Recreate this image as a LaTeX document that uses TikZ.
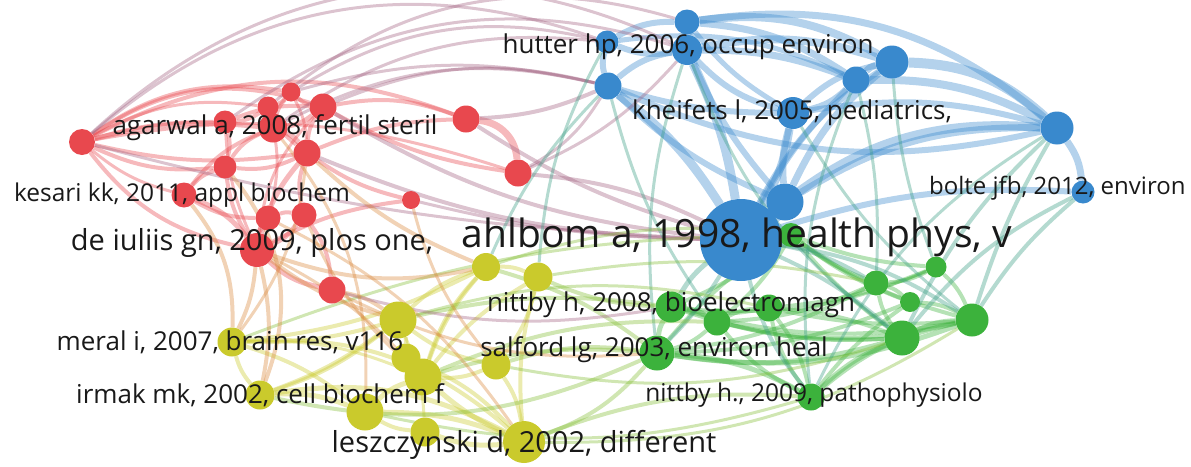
\documentclass[tikz,border=0pt]{standalone}
\usepackage{fontspec}
\setmainfont{Open Sans}
\usepackage{xcolor}
\usetikzlibrary{positioning,calc}
\definecolor{vred}{RGB}{232,72,78}
\definecolor{vblue}{RGB}{57,137,205}
\definecolor{vgreen}{RGB}{60,178,60}
\definecolor{vyellow}{RGB}{202,202,44}
\definecolor{vtext}{RGB}{25,25,25}
\colorlet{vpurple}{vred!60!vblue}
\colorlet{vorange}{vred!50!vyellow}
\colorlet{vteal}{vblue!50!vgreen}
\colorlet{vlime}{vgreen!50!vyellow}
\pgfdeclarelayer{edges}
\pgfsetlayers{edges,main}

\begin{document}
\begin{tikzpicture}[
            x=1pt, y=-1pt,
            rednode/.style={circle, inner sep=0pt, minimum size=#1, fill=vred},
            bluenode/.style={circle, inner sep=0pt, minimum size=#1, fill=vblue},
            greennode/.style={circle, inner sep=0pt, minimum size=#1, fill=vgreen},
            yellownode/.style={circle, inner sep=0pt, minimum size=#1, fill=vyellow},
            link/.style 2 args={draw=#1, opacity=0.38, line width=#2},
            lbl/.style={text=vtext, inner sep=0pt, font=\fontsize{#1}{#1}\selectfont}
        ]
        \useasboundingbox (0,0) rectangle (1191,466);

        % red cluster
        \node[rednode=26] (ra) at (82,142) {};
        \node[rednode=19] (rb) at (291,92) {};
        \node[rednode=21] (rc) at (268,107) {};
        \node[rednode=27] (rd) at (323,107) {};
        \node[rednode=23] (re) at (225,122) {};
        \node[rednode=29] (agarwal) at (273,128) {};
        \node[rednode=27] (rf) at (307,153) {};
        \node[rednode=23] (rg) at (225,167) {};
        \node[rednode=27] (rh) at (466,119) {};
        \node[rednode=27] (ri) at (518,173) {};
        \node[rednode=25] (kesari) at (184,195) {};
        \node[rednode=18] (rj) at (411,200) {};
        \node[rednode=25] (rk) at (268,218) {};
        \node[rednode=25] (rl) at (304,215) {};
        \node[rednode=34] (deiuliis) at (257,250) {};
        \node[rednode=27] (rm) at (332,290) {};

        % blue cluster
        \node[bluenode=25] (ba) at (687,22) {};
        \node[bluenode=23] (bb) at (607,42) {};
        \node[bluenode=30] (hutter) at (687,50) {};
        \node[bluenode=27] (bc) at (608,86) {};
        \node[bluenode=27] (bd) at (856,80) {};
        \node[bluenode=33] (be) at (892,62) {};
        \node[bluenode=32] (kheifets) at (793,113) {};
        \node[bluenode=33] (bf) at (1057,128) {};
        \node[bluenode=23] (bolte) at (1083,192) {};
        \node[bluenode=37] (bg) at (785,202) {};
        \node[bluenode=82] (ahlbom) at (741,240) {};

        % green cluster
        \node[greennode=24] (ga) at (791,235) {};
        \node[greennode=21] (gb) at (936,267) {};
        \node[greennode=25] (gc) at (876,283) {};
        \node[greennode=20] (gd) at (910,302) {};
        \node[greennode=33] (ge) at (972,320) {};
        \node[greennode=35] (gf) at (902,338) {};
        \node[greennode=31] (nittbya) at (671,307) {};
        \node[greennode=27] (gg) at (717,322) {};
        \node[greennode=27] (gh) at (769,308) {};
        \node[greennode=35] (salford) at (657,353) {};
        \node[greennode=27] (nittbyb) at (811,397) {};

        % yellow cluster
        \node[yellownode=28] (ya) at (486,267) {};
        \node[yellownode=29] (yb) at (538,277) {};
        \node[yellownode=37] (yc) at (398,320) {};
        \node[yellownode=29] (meral) at (232,342) {};
        \node[yellownode=29] (yd) at (406,358) {};
        \node[yellownode=37] (ye) at (423,377) {};
        \node[yellownode=29] (yf) at (496,365) {};
        \node[yellownode=29] (irmak) at (260,395) {};
        \node[yellownode=37] (yg) at (365,412) {};
        \node[yellownode=29] (yh) at (425,432) {};
        \node[yellownode=42] (leszcz) at (524,442) {};

        \begin{pgfonlayer}{edges}
        % inside the clusters
        \foreach \a/\b/\bend/\w in {ra/rb/22/4, ra/rd/26/4, ra/agarwal/10/5, ra/rf/-10/4, ra/rg/-15/4,
            ra/deiuliis/-20/4, ra/rh/24/4, ra/ri/14/3, ra/re/8/4, ra/rc/18/3, ra/kesari/-12/3,
            rb/rc/15/4, rb/rd/-15/4, rc/re/15/4, rc/agarwal/-15/5, rd/agarwal/15/5, rd/rf/-15/4, re/rg/15/4,
            agarwal/rf/15/5, agarwal/rg/-15/4, rf/rg/15/4, rg/kesari/-15/4, kesari/rk/-15/4, kesari/deiuliis/15/5,
            rk/rl/15/4, rk/deiuliis/-15/5, rl/deiuliis/15/5, rf/rl/-15/4, rf/deiuliis/-12/5, deiuliis/rm/-15/5,
            rl/rm/15/4, rj/rf/10/4, rj/deiuliis/-10/4, rh/ri/40/7, rd/rh/15/4, rf/rh/10/4, rd/ri/-10/4,
            kesari/agarwal/15/4, rg/deiuliis/-12/4, re/rd/12/4, rc/rf/-12/4, rb/agarwal/-12/4, rb/rf/12/3,
            rd/deiuliis/-18/3, re/deiuliis/-10/3, rc/rk/14/3}
            \draw[link={vred}{\w}] (\a) to[bend left=\bend] (\b);

        \foreach \a/\b/\bend/\w in {ba/hutter/15/7, ba/bb/-15/6, ba/be/18/8, ba/bd/14/7, ba/bf/24/7,
            hutter/bb/15/6, hutter/bc/-15/6, hutter/bd/10/7, hutter/be/14/8, hutter/kheifets/-15/6,
            hutter/ahlbom/8/9, hutter/bg/-8/6, bb/bc/-15/6, bc/ahlbom/10/9, bc/bg/-10/6, bc/kheifets/-8/6,
            bd/be/15/7, bd/bf/14/8, be/bf/20/10, be/kheifets/-15/6, be/bg/-12/7, kheifets/ahlbom/10/8,
            kheifets/bg/-10/7, bf/bolte/15/7, bf/ahlbom/-22/9, bf/bg/-16/7, bolte/ahlbom/-10/6,
            bd/ahlbom/-8/6, bg/ahlbom/15/9, bc/bf/-18/6, bd/kheifets/15/6, bb/bd/16/5, ba/kheifets/-10/5,
            be/ahlbom/-14/6, bf/kheifets/-12/6}
            \draw[link={vblue}{\w}] (\a) to[bend left=\bend] (\b);

        \foreach \a/\b/\bend/\w in {ga/gb/-8/4, ga/gc/-8/4, ga/gd/-8/4, ga/ge/-10/4, ga/gf/-6/4,
            gb/gc/12/4, gb/ge/12/4, gc/gd/12/4, gc/gf/-12/4, gd/ge/12/4, ge/gf/-12/5, nittbya/gg/12/5,
            nittbya/gh/-10/4, nittbya/salford/-12/5, gg/gh/12/4, gg/salford/12/4, salford/nittbyb/12/5,
            nittbyb/gf/10/5, nittbyb/ge/14/5, nittbya/gf/-10/4, salford/gf/-12/5, salford/ge/-14/5,
            gh/ge/-8/4, gh/gb/-8/4, gg/gf/-8/4, nittbyb/gh/12/4, nittbya/ge/-12/4, salford/gc/-10/4,
            nittbyb/gg/12/4, ga/salford/-8/4, gh/nittbyb/12/4, nittbyb/gd/8/4, ga/nittbya/8/4,
            gg/gc/-10/4, gg/ge/-12/4, nittbya/gb/-14/3, salford/gd/-10/4, gh/gf/8/4, ga/gg/10/4}
            \draw[link={vgreen}{\w}] (\a) to[bend left=\bend] (\b);

        \foreach \a/\b/\bend/\w in {ya/yb/12/4, ya/yc/-12/4, yc/yd/12/4, yd/ye/12/4, ye/yg/-12/5,
            yg/irmak/-12/5, irmak/meral/12/4, meral/yc/-8/4, meral/yg/10/4, yg/yh/-12/4, yh/leszcz/-12/5,
            ye/leszcz/-8/5, yf/leszcz/12/4, yf/ye/12/4, yc/yf/-12/4, irmak/leszcz/18/5, meral/leszcz/22/4,
            ya/ye/-12/4, yb/yf/12/4, yc/irmak/8/4, ya/meral/10/4, irmak/yc/-10/4, yd/leszcz/12/4,
            yg/leszcz/10/5, yb/leszcz/-10/4, ye/ya/10/4, yb/ye/-10/4, meral/ye/12/3, yc/yh/10/3}
            \draw[link={vyellow}{\w}] (\a) to[bend left=\bend] (\b);

        % between the clusters
        \foreach \a/\b/\bend/\w/\col in {ra/bb/30/3/vpurple, ra/hutter/34/3/vpurple, rb/bb/22/3/vpurple,
            rc/ba/28/3/vpurple, rd/bc/18/3/vpurple, rb/bc/14/3/vpurple, re/hutter/26/3/vpurple,
            rh/bc/-10/4/vpurple, ri/bc/-14/3/vpurple, ri/hutter/-12/3/vpurple, rd/ahlbom/-12/4/vpurple,
            ri/ahlbom/10/4/vpurple, rf/ahlbom/-10/4/vpurple, rh/ahlbom/-8/4/vpurple, rj/ahlbom/-6/3/vpurple,
            ra/ahlbom/-6/3/vpurple, bb/agarwal/-20/3/vpurple, agarwal/bc/20/3/vpurple,
            ahlbom/ga/12/5/vteal, ahlbom/gc/10/4/vteal, ahlbom/ge/12/4/vteal, ahlbom/gf/8/4/vteal,
            ahlbom/salford/6/4/vteal, ahlbom/nittbya/-10/5/vteal, ahlbom/nittbyb/-12/4/vteal,
            hutter/gf/-16/3/vteal, bd/nittbyb/-14/3/vteal, bf/gf/-10/4/vteal, bf/ge/-6/4/vteal,
            bolte/gf/-12/4/vteal, bolte/ge/-8/4/vteal, be/gb/-8/3/vteal, bd/gc/8/3/vteal,
            kheifets/ge/-10/3/vteal, hutter/salford/-12/3/vteal, bc/gg/-10/3/vteal, bf/nittbyb/-16/3/vteal,
            bc/ya/-10/3/vteal, bb/yb/-12/3/vteal,
            salford/yf/-12/4/vlime, salford/ya/-10/4/vlime, nittbya/yb/10/4/vlime, salford/leszcz/14/4/vlime,
            nittbyb/leszcz/-12/4/vlime, salford/irmak/18/4/vlime, nittbya/yc/-10/4/vlime, gg/ye/-12/4/vlime,
            salford/ye/-10/4/vlime, ga/ya/-12/3/vlime, gh/yc/-14/3/vlime, gf/yf/14/3/vlime, ge/leszcz/16/3/vlime,
            gc/yb/-10/3/vlime, nittbyb/yg/14/3/vlime, ga/meral/-10/3/vlime,
            deiuliis/ya/-15/4/vorange, meral/kesari/-20/4/vorange, meral/deiuliis/-10/4/vorange,
            yc/rm/-12/4/vorange, irmak/rg/-30/4/vorange, yc/deiuliis/10/4/vorange, ya/rf/10/4/vorange,
            meral/rf/-15/3/vorange, irmak/deiuliis/-12/4/vorange, rm/nittbya/-12/3/vpurple,
            rm/salford/-15/3/vorange, ye/rl/12/3/vorange, yg/agarwal/-20/3/vorange, leszcz/rk/-14/3/vorange,
            yf/rj/12/3/vorange, ye/deiuliis/-10/3/vorange}
            \draw[link={\col}{\w}] (\a) to[bend left=\bend] (\b);
        \end{pgfonlayer}

        % labels
        \node[lbl=26] (huttertxt) at (688,47) {hutter hp, 2006, occup environ};
        \node[lbl=26] (kheifetstxt) at (792,113) {kheifets l, 2005, pediatrics,};
        \node[lbl=26] (agarwaltxt) at (275,128) {agarwal a, 2008, fertil steril};
        \node[lbl=24.5] (kesaritxt) at (182,195) {kesari kk, 2011, appl biochem};
        \node[lbl=24, anchor=west] (boltetxt) at (929,188) {bolte jfb, 2012, environ};
        \node[lbl=29] (deiuliistxt) at (252,243) {de iuliis gn, 2009, plos one,};
        \node[lbl=39] (ahlbomtxt) at (737,237) {ahlbom a, 1998, health phys, v};
        \node[lbl=26] (nittbyatxt) at (671,305) {nittby h, 2008, bioelectromagn};
        \node[lbl=26] (meraltxt) at (230,342) {meral i, 2007, brain res, v116};
        \node[lbl=26] (salfordtxt) at (654,350) {salford lg, 2003, environ heal};
        \node[lbl=26] (irmaktxt) at (260,395) {irmak mk, 2002, cell biochem f};
        \node[lbl=24.5] (nittbybtxt) at (814,395) {nittby h., 2009, pathophysiolo};
        \node[lbl=29] (leszcztxt) at (524,445) {leszczynski d, 2002, different};

        \end{tikzpicture}
\end{document}
